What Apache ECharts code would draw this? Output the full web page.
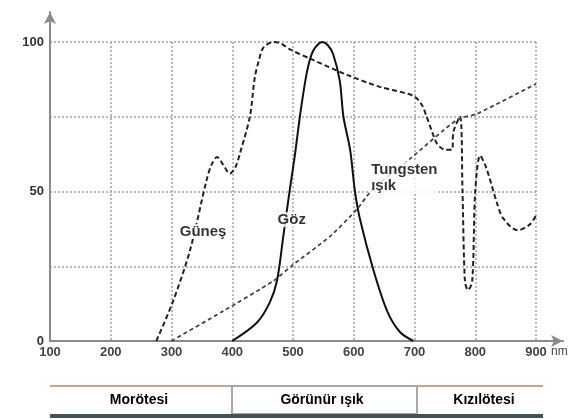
<!DOCTYPE html>
<html>
<head>
<meta charset="utf-8">
<script src="https://cdn.jsdelivr.net/npm/echarts@6/dist/echarts.min.js"></script>
<style>
html,body{margin:0;padding:0;background:#fff;}
#chart{width:573px;height:419px;}
</style>
</head>
<body>
<div id="chart"></div>
<script>
// Wavelength ticks (nm) and y ticks
var xTicks = [100, 200, 300, 400, 500, 600, 700, 800, 900];
var yTickLabels = [0, 50, 100];

// Güneş (sun) spectrum
var sunX = [275, 302, 330, 358, 366, 375, 385, 396, 405, 413, 429, 437, 444, 451, 467, 480, 495, 533, 589, 643, 698, 712, 720, 729, 737, 750, 762, 764, 775, 779, 783, 788, 795, 800, 808, 818, 836, 846, 870, 890, 900];
var sunY = [0, 13, 30, 54, 59, 61.5, 59, 56, 58, 63, 75, 88, 94, 98, 100, 99.5, 97.5, 94, 89, 85, 82, 79, 75, 70, 66, 64, 64, 70, 75, 50, 20, 17, 20, 50, 62, 58, 46, 41, 37, 39, 42];

// Göz (eye) sensitivity
var eyeX = [400, 440, 462, 474, 484, 495, 503, 512, 523, 533, 548, 557, 566, 577, 583, 594, 602, 610, 632, 655, 676, 698];
var eyeY = [0, 6, 13, 20.5, 35, 51, 62, 76, 90, 97, 100, 99, 96, 87, 75, 64, 50, 41, 24, 10, 3, 0];

// Tungsten ışık (tungsten light)
var tungX = [300, 385, 467, 500, 561, 605, 632, 693, 770, 803, 900];
var tungY = [0, 10, 20, 25.5, 35, 44, 51, 61, 74, 76, 86];

// Curve labels [nm, value, text]
var curveLabels = [[352, 36.6, 'Güneş'], [498, 40.6, 'Göz']];
var tungLabel = [[627, 54.7, 'Tungsten\nışık']];

// Spectrum band names
var bandNames = ['Morötesi', 'Görünür ışık', 'Kızılötesi'];

function zip(a, b) { return a.map(function (v, i) { return [v, b[i]]; }); }

var chart = echarts.init(document.getElementById('chart'), null, {renderer: 'canvas'});
var font = 'Liberation Sans, Arial, sans-serif';
var gridStyle = {color: '#a3a3a3', width: 1.5, type: [2, 2]};

var option = {
  animation: false,
  backgroundColor: '#fff',
  grid: [
    {left: 50, right: 37, top: 42, bottom: 78},
    {left: 50, right: 10, top: 12, bottom: 78}
  ],
  xAxis: [
    {
      type: 'value', gridIndex: 0, min: xTicks[0], max: xTicks[xTicks.length - 1], interval: 100,
      axisLine: {show: false}, axisTick: {show: false},
      splitLine: {show: true, lineStyle: gridStyle},
      axisLabel: {margin: 5, color: '#444', fontSize: 13, fontFamily: font, fontWeight: 'bold'}
    },
    {
      type: 'value', gridIndex: 1, min: 100, max: 945,
      axisLine: {show: true, symbol: ['none', 'arrow'], symbolSize: [9, 12], lineStyle: {color: '#8a8a8a', width: 2}},
      axisTick: {show: false}, axisLabel: {show: false}, splitLine: {show: false}
    }
  ],
  yAxis: [
    {
      type: 'value', gridIndex: 0, min: 0, max: 100, interval: 25,
      axisLine: {show: false}, axisTick: {show: false},
      splitLine: {show: true, lineStyle: gridStyle},
      axisLabel: {
        margin: 6, color: '#333', fontSize: 13, fontFamily: font, fontWeight: 'bold',
        formatter: function (v) { return yTickLabels.indexOf(v) >= 0 ? String(v) : ''; }
      }
    },
    {
      type: 'value', gridIndex: 1, min: 0, max: 110,
      axisLine: {show: true, symbol: ['none', 'arrow'], symbolSize: [9, 12], lineStyle: {color: '#8a8a8a', width: 2}},
      axisTick: {show: false}, axisLabel: {show: false}, splitLine: {show: false}
    }
  ],
  series: [
    {
      name: 'Güneş', type: 'line', xAxisIndex: 0, yAxisIndex: 0, data: zip(sunX, sunY),
      smooth: 0.3, showSymbol: false, symbol: 'none',
      lineStyle: {color: '#222', width: 2, type: [5, 3]}, z: 3
    },
    {
      name: 'Göz', type: 'line', xAxisIndex: 0, yAxisIndex: 0, data: zip(eyeX, eyeY),
      smooth: 0.3, showSymbol: false, symbol: 'none',
      lineStyle: {color: '#111', width: 2}, z: 3
    },
    {
      name: 'Tungsten', type: 'line', xAxisIndex: 0, yAxisIndex: 0, data: zip(tungX, tungY),
      smooth: 0.2, showSymbol: false, symbol: 'none',
      lineStyle: {color: '#444', width: 1.8, type: [4, 3]}, z: 3
    },
    {
      type: 'scatter', xAxisIndex: 0, yAxisIndex: 0, data: curveLabels, symbolSize: 1,
      itemStyle: {color: 'rgba(0,0,0,0)'}, z: 10,
      label: {
        show: true, position: 'inside', formatter: function (p) { return p.value[2]; },
        fontFamily: font, fontSize: 15, fontWeight: 'bold', color: '#000',
        backgroundColor: '#fff', padding: [0, 1]
      }
    },
    {
      type: 'scatter', xAxisIndex: 0, yAxisIndex: 0, data: tungLabel, symbolSize: 1,
      itemStyle: {color: 'rgba(0,0,0,0)'}, z: 10,
      label: {
        show: true, position: 'inside', align: 'left', formatter: function (p) { return p.value[2]; },
        fontFamily: font, fontSize: 15, fontWeight: 'bold', color: '#000', lineHeight: 16,
        backgroundColor: '#fff', padding: [0, 1]
      }
    }
  ],
  graphic: [
    {type: 'text', left: 551, top: 346, style: {text: 'nm', fill: '#444', font: '12px ' + font}},
    {type: 'rect', shape: {x: 50, y: 385, width: 493, height: 2}, style: {fill: '#c9a488'}},
    {type: 'rect', shape: {x: 232, y: 386, width: 185, height: 28}, style: {fill: '#fff', stroke: '#a8a8a8', lineWidth: 2}},
    {type: 'rect', shape: {x: 50, y: 414, width: 493, height: 4}, style: {fill: '#3f5656'}},
    {type: 'text', x: 139, y: 400, style: {text: bandNames[0], fill: '#000', font: 'bold 14px ' + font, textAlign: 'center', textVerticalAlign: 'middle'}},
    {type: 'text', x: 322, y: 400, style: {text: bandNames[1], fill: '#000', font: 'bold 14px ' + font, textAlign: 'center', textVerticalAlign: 'middle'}},
    {type: 'text', x: 484, y: 400, style: {text: bandNames[2], fill: '#000', font: 'bold 14px ' + font, textAlign: 'center', textVerticalAlign: 'middle'}}
  ]
};
chart.setOption(option);
</script>
</body>
</html>
